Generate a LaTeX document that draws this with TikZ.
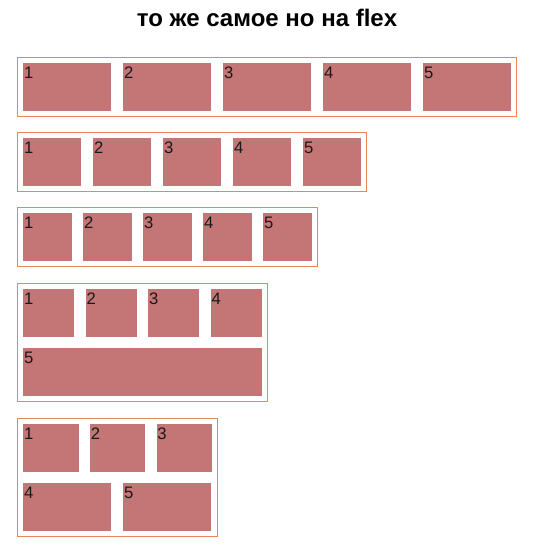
\documentclass[tikz,border=0pt]{standalone}
\usepackage{fontspec}
\setmainfont{Liberation Sans}
\usepackage{xcolor}
\usetikzlibrary{positioning,fit}

\definecolor{itemred}{RGB}{196,117,117}
\definecolor{boxline}{RGB}{236,134,90}

\begin{document}
\begin{tikzpicture}[
  x=0.75pt, y=-0.75pt,
  item/.style={fill=itemred, minimum height=36pt, inner sep=0pt, anchor=north west},
  num/.style={anchor=north west, inner sep=0pt, xshift=0.6pt, yshift=-2.6pt,
    font=\fontsize{12.5pt}{14pt}\selectfont, text=black!90},
  flexbox/.style={draw=boxline, line width=0.9pt, inner sep=4pt},
  heading/.style={font=\bfseries\fontsize{18pt}{22pt}\selectfont, anchor=base}
]
  \useasboundingbox (0,0) rectangle (535,548);

  % Title
  \node[heading] (title) at (267,26.5) {то же самое но на flex};

  % Row 1: wide items
  \foreach \i in {1,...,5}
    \node[item, minimum width=66pt, label={[num]north west:\i}] (ra\i) at ({23+100*(\i-1)},63) {};
  \node[flexbox, fit=(ra1)(ra5)] (boxa) {};

  % Row 2
  \foreach \i in {1,...,5}
    \node[item, minimum width=43.5pt, label={[num]north west:\i}] (rb\i) at ({23+70*(\i-1)},138) {};
  \node[flexbox, fit=(rb1)(rb5)] (boxb) {};

  % Row 3
  \foreach \i in {1,...,5}
    \node[item, minimum width=36.4pt, label={[num]north west:\i}] (rc\i) at ({23+60*(\i-1)},213) {};
  \node[flexbox, fit=(rc1)(rc5)] (boxc) {};

  % Row 4: wrap, last item stretches
  \foreach \i in {1,...,4}
    \node[item, minimum width=38.3pt, label={[num]north west:\i}] (rd\i) at ({23+62.5*(\i-1)},289) {};
  \node[item, minimum width=178.9pt, label={[num]north west:5}] (rd5) at (23,348) {};
  \node[flexbox, fit=(rd1)(rd4)(rd5)] (boxd) {};

  % Row 5: wrap into 3 + 2
  \foreach \i in {1,...,3}
    \node[item, minimum width=41.6pt, label={[num]north west:\i}] (re\i) at ({23+66.7*(\i-1)},424) {};
  \node[item, minimum width=66pt, label={[num]north west:4}] (re4) at (23,483) {};
  \node[item, minimum width=66pt, label={[num]north west:5}] (re5) at (123,483) {};
  \node[flexbox, fit=(re1)(re3)(re4)(re5)] (boxe) {};
\end{tikzpicture}
\end{document}
